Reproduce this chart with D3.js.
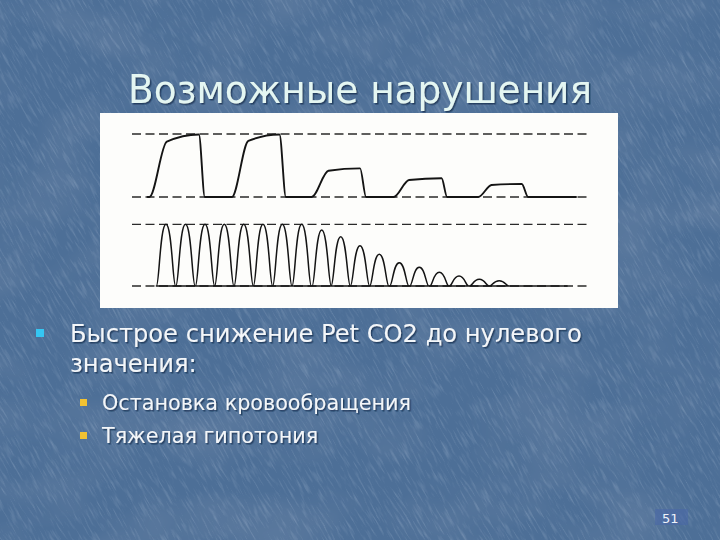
<!DOCTYPE html>
<html><head><meta charset="utf-8">
<script src="https://cdn.jsdelivr.net/npm/d3@7"></script>
<style>html,body{margin:0;padding:0;background:#4e7099;}svg{display:block}</style>
</head><body>
<script>
// ---------- data (time in s, CO2 in mmHg) ----------
const refLevels = [0, 40];
// top trace: five breaths
const topOnset   = [3.8, 21.8, 39.2, 57.1, 75.6];
const topRiseEnd = [7.6, 25.4, 42.9, 60.5, 78.5];
const topPlatEnd = [14.6, 32.2, 49.8, 67.6, 85.1];
const topFallEnd = [15.9, 33.6, 51.1, 68.8, 86.5];
const topRiseVal = [35.1, 35.6, 16.7, 10.8, 7.6];
const topPlatVal = [39.7, 39.7, 18.2, 11.9, 8.3];
const topTraceSpan = [3.3, 97.1];
// bottom trace: eighteen breaths
const bottomPeakT = [7.42, 11.68, 15.94, 20.15, 24.39, 28.60, 32.82, 37.05, 41.42,
                     45.57, 49.78, 53.99, 58.36, 62.73, 67.10, 71.40, 75.83, 80.17];
const bottomPeakV = [40, 40, 40, 40, 40, 40, 40, 40, 36.3,
                     32.0, 26.1, 20.6, 15.1, 12.1, 8.9, 6.5, 4.3, 3.4];
const bottomHalfWidth = 2.1;
const bottomTraceEnd = 95;
// texts
const title = "Возможные нарушения";
const bullet1 = ["Быстрое снижение Pet CO2 до нулевого", "значения:"];
const subBullets = ["Остановка кровообращения", "Тяжелая гипотония"];
const pageNo = "51";

// ---------- custom d3 curve: narrow troughs, rounded crests ----------
class Hump {
  constructor(ctx) { this._context = ctx; }
  areaStart() { this._line = 0; }
  areaEnd() { this._line = NaN; }
  lineStart() { this._point = 0; }
  lineEnd() { if (this._line || (this._line !== 0 && this._point === 1)) this._context.closePath(); this._line = 1 - this._line; }
  point(px, py) {
    px = +px; py = +py;
    if (this._point === 0) {
      this._point = 1;
      this._line ? this._context.lineTo(px, py) : this._context.moveTo(px, py);
    } else {
      const x0 = this._x0, y0 = this._y0, dx = px - x0;
      const a = 0.3, b = 0.38;
      if (py < y0) {        // rising (screen y decreases)
        this._context.bezierCurveTo(x0 + a * dx, y0, x0 + b * dx, py, px, py);
      } else {              // falling or flat
        this._context.bezierCurveTo(x0 + (1 - b) * dx, y0, x0 + (1 - a) * dx, py, px, py);
      }
    }
    this._x0 = px; this._y0 = py;
  }
}
const curveHump = ctx => new Hump(ctx);

// ---------- drawing ----------
const W = 720, H = 540;
const svg = d3.select("body").append("svg").attr("width", W).attr("height", H);
const defs = svg.append("defs");
const f = defs.append("filter").attr("id", "tex").attr("x", 0).attr("y", 0).attr("width", "100%").attr("height", "100%");
f.append("feTurbulence").attr("type", "fractalNoise").attr("baseFrequency", "0.5 0.05").attr("numOctaves", 3).attr("seed", 7).attr("result", "n");
f.append("feColorMatrix").attr("in", "n").attr("type", "matrix")
  .attr("values", "0 0 0 0 0.8  0 0 0 0 0.87  0 0 0 0 0.97  0.5 0 0 0 -0.25");
const f2 = defs.append("filter").attr("id", "tex2").attr("x", 0).attr("y", 0).attr("width", "100%").attr("height", "100%");
f2.append("feTurbulence").attr("type", "fractalNoise").attr("baseFrequency", "0.012 0.02").attr("numOctaves", 2).attr("seed", 3).attr("result", "n");
f2.append("feColorMatrix").attr("in", "n").attr("type", "matrix")
  .attr("values", "0 0 0 0 0.2  0 0 0 0 0.28  0 0 0 0 0.42  -0.7 0 0 0 0.42");
const sh = defs.append("filter").attr("id", "shadow").attr("x", "-5%").attr("y", "-20%").attr("width", "110%").attr("height", "140%");
sh.append("feDropShadow").attr("dx", 1.5).attr("dy", 1.5).attr("stdDeviation", 0.6)
  .attr("flood-color", "#182848").attr("flood-opacity", 0.7);

svg.append("rect").attr("width", W).attr("height", H).attr("fill", "#4d6f97");
svg.append("rect").attr("width", W).attr("height", H).attr("filter", "url(#tex2)");
const tg = svg.append("g").attr("transform", "rotate(-30 360 270)");
tg.append("rect").attr("x", -300).attr("y", -300).attr("width", 1320).attr("height", 1140).attr("filter", "url(#tex)");

// text helper with fit-to-width scaling and drop shadow
function fitText(str, x, y, size, color, sx) {
  const g = svg.append("g").attr("transform", `translate(${x},${y}) scale(${sx},1)`);
  return g.append("text").text(str)
    .attr("font-family", "DejaVu Sans").attr("font-size", size).attr("fill", color)
    .attr("filter", "url(#shadow)");
}
function measure(str, size) {
  const t = svg.append("text").text(str).attr("font-family", "DejaVu Sans").attr("font-size", size);
  const w = t.node().getComputedTextLength(); t.remove(); return w;
}

// title
const titleSize = 38.5;
fitText(title, 128, 103, titleSize, "#e4f6f2", 464 / measure(title, titleSize));

// panel
const panel = {x0: 100, x1: 618, y0: 113, y1: 308};
svg.append("rect").attr("x", panel.x0).attr("y", panel.y0)
  .attr("width", panel.x1 - panel.x0).attr("height", panel.y1 - panel.y0).attr("fill", "#fdfdfb");

const x = d3.scaleLinear().domain([0, 100]).range([132, 590]);
const yTop = d3.scaleLinear().domain(refLevels).range([197, 134]);
const yBot = d3.scaleLinear().domain(refLevels).range([286, 224.3]);

function refLines(y) {
  svg.append("g").selectAll("line").data(refLevels).join("line")
    .attr("x1", x(0)).attr("x2", x(100)).attr("y1", d => y(d)).attr("y2", d => y(d))
    .attr("stroke", "#2a2a2a").attr("stroke-width", 1.3).attr("stroke-dasharray", "9,4.5");
}
refLines(yTop); refLines(yBot);

// top trace points
const topPts = [[topTraceSpan[0], 0]];
topOnset.forEach((o, i) => {
  topPts.push([o, 0], [topRiseEnd[i], topRiseVal[i]], [topPlatEnd[i], topPlatVal[i]], [topFallEnd[i], 0]);
});
topPts.push([topTraceSpan[1], 0]);
const lineTop = d3.line().x(d => x(d[0])).y(d => yTop(d[1])).curve(d3.curveMonotoneX);
svg.append("path").attr("d", lineTop(topPts)).attr("fill", "none")
  .attr("stroke", "#141414").attr("stroke-width", 1.9).attr("stroke-linejoin", "round");

// bottom trace points
const botPts = [];
bottomPeakT.forEach((t, i) => {
  botPts.push([t - bottomHalfWidth, 0], [t, bottomPeakV[i]], [t + bottomHalfWidth, 0]);
});
botPts.push([bottomTraceEnd, 0]);
const lineBot = d3.line().x(d => x(d[0])).y(d => yBot(d[1])).curve(curveHump);
svg.append("path").attr("d", lineBot(botPts)).attr("fill", "none")
  .attr("stroke", "#141414").attr("stroke-width", 1.5).attr("stroke-linejoin", "round");

// bullets
svg.append("rect").attr("x", 36).attr("y", 329).attr("width", 8).attr("height", 8).attr("fill", "#35c6f2");
const b1Size = 25.6;
const b1sx = 512 / measure(bullet1[0], b1Size);
fitText(bullet1[0], 70, 342, b1Size, "#f3f6f9", b1sx);
fitText(bullet1[1], 70, 372, b1Size, "#f3f6f9", b1sx);

const sSize = 22;
const ssx = 309 / measure(subBullets[0], sSize);
subBullets.forEach((s, i) => {
  const by = 410 + i * 33;
  svg.append("rect").attr("x", 80).attr("y", by - 11).attr("width", 7).attr("height", 7).attr("fill", "#f2c232");
  fitText(s, 102, by, sSize, "#f3f6f9", ssx);
});

// page number
svg.append("rect").attr("x", 655).attr("y", 509).attr("width", 33).attr("height", 16).attr("fill", "#4a67a6").attr("opacity", 0.6);
svg.append("text").text(pageNo).attr("x", 662).attr("y", 522.5)
  .attr("font-family", "DejaVu Sans").attr("font-size", 13).attr("fill", "#eef2fa");
</script>
</body></html>
